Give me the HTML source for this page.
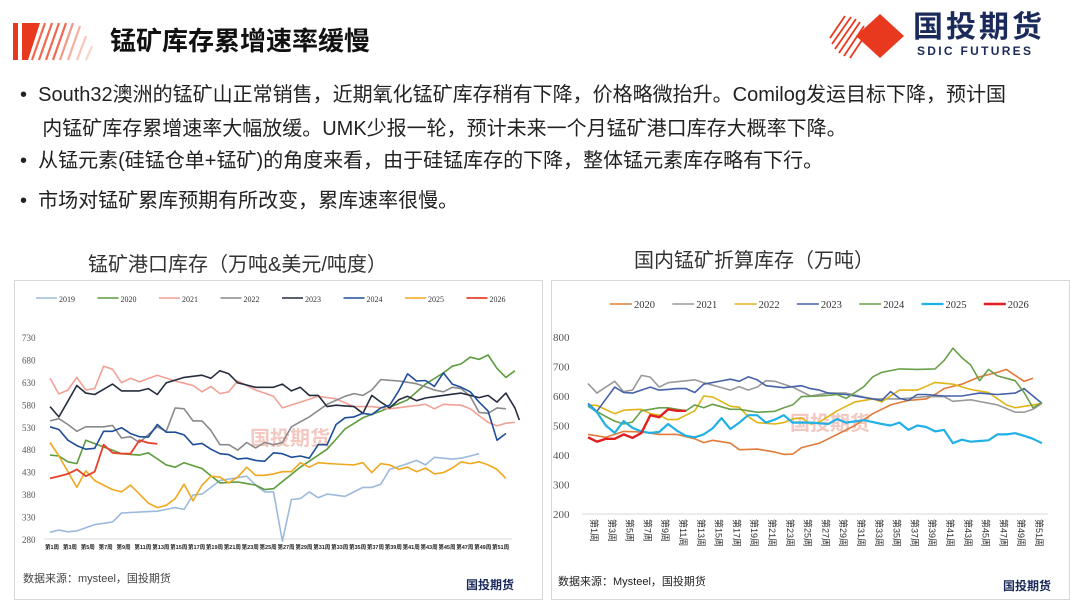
<!DOCTYPE html>
<html><head><meta charset="utf-8">
<style>
body{margin:0;width:1080px;height:608px;background:#fff;font-family:"Liberation Sans","Noto Sans CJK SC",sans-serif;overflow:hidden;position:relative}
.t{position:absolute;white-space:nowrap;color:#222}
</style></head><body>
<svg width="1080" height="608" style="position:absolute;left:0;top:0">
  <rect x="13" y="23" width="5" height="37" fill="#e8391f"/>
  <polygon points="22,23 40,23 28,60 22,60" fill="#e8391f"/>
  <g stroke="#ef6a50" stroke-width="2.2">
    <line x1="45" y1="23" x2="32" y2="60"/><line x1="52" y1="23" x2="39" y2="60"/>
    <line x1="59" y1="23" x2="46" y2="60"/><line x1="66" y1="23" x2="53" y2="60"/>
    <line x1="73" y1="23" x2="60" y2="60" stroke="#f39a86"/><line x1="80" y1="26" x2="68" y2="60" stroke="#f5b0a0"/>
    <line x1="86" y1="36" x2="77" y2="60" stroke="#f8c6ba"/><line x1="92" y1="46" x2="86" y2="60" stroke="#f8d4cb"/>
  </g>
  <g stroke="#e8391f" stroke-width="1.8">
    <line x1="830" y1="38" x2="845" y2="16"/><line x1="832" y1="44" x2="851" y2="17"/>
    <line x1="835" y1="49" x2="856" y2="19"/><line x1="839" y1="53" x2="860" y2="22"/>
    <line x1="844" y1="56" x2="864" y2="26"/><line x1="850" y1="58" x2="866" y2="34"/>
  </g>
  <polygon points="880,14 904,36 880,58 856,36" fill="#e8391f"/>
  <rect x="14.5" y="280.5" width="528" height="319" fill="none" stroke="#d8d8d8"/>
  <rect x="551.5" y="280.5" width="518" height="319" fill="none" stroke="#d8d8d8"/>
  <g id="c1"></g><g id="c2"></g>
</svg>
<div class="t" style="left:110px;top:21px;font-size:26px;font-weight:bold;color:#111">锰矿库存累增速率缓慢</div>
<div class="t" style="left:913px;top:11px;font-size:30px;line-height:34px;font-weight:bold;color:#1a2a5a;letter-spacing:3px">国投期货</div>
<div class="t" style="left:917px;top:44px;font-size:12px;line-height:14px;font-weight:bold;color:#1a2a5a;letter-spacing:2.3px">SDIC FUTURES</div>
<div class="t" style="left:20px;top:78px;font-size:20px;line-height:34px;color:#222">•&nbsp;&nbsp;South32澳洲的锰矿山正常销售，近期氧化锰矿库存稍有下降，价格略微抬升。Comilog发运目标下降，预计国<br>&nbsp;&nbsp;&nbsp;&nbsp;内锰矿库存累增速率大幅放缓。UMK少报一轮，预计未来一个月锰矿港口库存大概率下降。</div>
<div class="t" style="left:20px;top:148px;font-size:20px;line-height:26px">•&nbsp;&nbsp;从锰元素(硅锰仓单+锰矿)的角度来看，由于硅锰库存的下降，整体锰元素库存略有下行。</div>
<div class="t" style="left:20px;top:188px;font-size:20px;line-height:26px">•&nbsp;&nbsp;市场对锰矿累库预期有所改变，累库速率很慢。</div>
<div class="t" style="left:88px;top:248px;font-size:20px;color:#333">锰矿港口库存（万吨&amp;美元/吨度）</div>
<div class="t" style="left:634px;top:244px;font-size:20px;color:#333">国内锰矿折算库存（万吨）</div>
<div class="t" style="left:23px;top:570px;font-size:11px;color:#444">数据来源：mysteel，国投期货</div>
<div class="t" style="left:558px;top:573px;font-size:11px;color:#222">数据来源：Mysteel，国投期货</div>
<div class="t" style="left:466px;top:576px;font-size:12px;font-weight:bold;color:#1a2a5a">国投期货</div>
<div class="t" style="left:1003px;top:577px;font-size:12px;font-weight:bold;color:#1a2a5a">国投期货</div>
<script>
function interp(k,n){var o=[];for(var i=0;i<k.length-1;i++){var a=k[i],b=k[i+1];for(var j=a[0];j<b[0];j++){o.push([j,a[1]+(b[1]-a[1])*(j-a[0])/(b[0]-a[0])]);}}o.push(k[k.length-1]);return o;}
function S(t){return document.createElementNS("http://www.w3.org/2000/svg",t);}
function add(g,t,at,txt){var e=S(t);for(var k in at)e.setAttribute(k,at[k]);if(txt!=null)e.textContent=txt;g.appendChild(e);return e;}
function chart(id,c){
 var g=document.getElementById(id);
 var ys=function(v){return c.y0+(v-c.vmin)/(c.vmax-c.vmin)*(c.y1-c.y0);};
 var xs=function(i){return c.x0+i*c.dx;};
 add(g,"line",{x1:c.x0-6,x2:c.x0+51*c.dx+6,y1:c.y0,y2:c.y0,stroke:"#d9d9d9"});
 for(var v=c.vmin;v<=c.vmax;v+=c.step){add(g,"text",{x:c.lx,y:ys(v)+4,"font-size":c.fs,fill:"#555","font-family":"Liberation Serif,serif"},String(v));}
 add(g,"text",{x:c.wx,y:c.wy,"font-size":20,fill:"#f2c8c0","font-weight":"bold","font-family":"Noto Sans CJK SC,sans-serif"},"国投期货");
 c.series.forEach(function(s){var p=interp(s.k).map(function(q){return xs(q[0]).toFixed(1)+","+ys(q[1]).toFixed(1);}).join(" ");
  add(g,"polyline",{points:p,fill:"none",stroke:s.c,"stroke-width":s.w||1.6,"stroke-linejoin":"round"});});
 c.series.forEach(function(s,i){var lx=c.legx+i*c.legdx;add(g,"line",{x1:lx,x2:lx+c.legl,y1:c.legy,y2:c.legy,stroke:s.c,"stroke-width":s.w||1.6});
  add(g,"text",{x:lx+c.legl+2,y:c.legy+4,"font-size":c.legfs,fill:"#333","font-family":"Liberation Serif,serif"},s.n);});
 c.xl(g,xs);
}
chart("c1",{x0:50,dx:8.94,y0:539,y1:337,vmin:280,vmax:730,step:50,lx:22,fs:9,wx:250,wy:445,legx:36,legdx:61.5,legy:298,legl:21,legfs:8,
 xl:function(g,xs){for(var i=0;i<52;i+=2){add(g,"text",{x:xs(i)-5,y:549,"font-size":5.5,fill:"#222","font-weight":"bold"},"第"+(i+1)+"周");}},
 series:[
 {n:"2019",c:"#9db9dc",k:[[0,295],[1,300],[2,296],[3,298],[5,312],[7,318],[8,338],[10,340],[12,342],[14,350],[15,346],[16,378],[17,380],[19,410],[22,420],[23,400],[24,385],[25,385],[26,275],[27,368],[28,370],[29,385],[30,372],[31,380],[33,375],[35,395],[36,395],[37,402],[38,435],[40,448],[41,455],[42,445],[43,462],[45,458],[46,460],[48,470]]},
 {n:"2020",c:"#5b9c3c",k:[[0,467],[1,465],[2,452],[3,448],[4,500],[6,485],[8,470],[10,467],[11,472],[13,445],[14,440],[15,450],[17,437],[19,405],[21,407],[23,400],[24,390],[25,392],[28,440],[31,480],[33,525],[35,550],[37,565],[40,590],[42,625],[44,650],[45,665],[46,670],[47,685],[48,680],[49,690],[50,660],[51,640],[52,655]]},
 {n:"2021",c:"#f1a195",k:[[0,638],[1,603],[2,612],[3,640],[4,612],[5,615],[6,665],[7,658],[8,628],[9,638],[10,630],[12,645],[14,632],[16,622],[17,608],[18,620],[19,604],[20,608],[21,632],[23,612],[25,598],[26,572],[28,585],[30,598],[32,592],[34,575],[36,575],[38,570],[40,575],[42,580],[43,570],[44,580],[46,578],[47,570],[49,540],[50,532],[51,538],[52,540]]},
 {n:"2022",c:"#8a8a8a",k:[[0,543],[1,548],[2,535],[3,520],[4,530],[6,530],[7,533],[8,505],[9,508],[10,495],[12,530],[13,520],[14,572],[15,570],[16,543],[17,543],[18,522],[19,490],[20,490],[21,478],[22,495],[23,483],[24,495],[25,490],[26,495],[27,530],[29,552],[31,580],[33,598],[34,604],[35,600],[36,612],[37,635],[39,632],[41,626],[43,612],[44,608],[45,618],[46,615],[47,598],[48,562],[49,560],[50,572],[51,570]]},
 {n:"2023",c:"#262d3e",k:[[0,575],[1,552],[3,622],[4,605],[5,602],[7,625],[8,610],[10,610],[11,615],[12,602],[13,628],[15,640],[17,645],[18,638],[19,655],[20,648],[21,628],[23,618],[25,618],[26,625],[27,610],[28,618],[29,600],[30,600],[31,575],[32,578],[34,575],[35,560],[36,600],[37,585],[38,572],[39,590],[40,598],[41,588],[42,594],[44,600],[46,605],[48,595],[49,600],[50,585],[51,605],[52,572],[52.5,545]]},
 {n:"2024",c:"#1f4e99",k:[[0,530],[1,524],[2,500],[3,488],[4,480],[5,482],[6,520],[7,520],[8,528],[9,515],[10,508],[11,507],[12,535],[13,518],[14,518],[15,512],[16,490],[17,493],[18,480],[19,470],[20,468],[21,458],[22,460],[23,455],[24,453],[25,472],[26,470],[27,462],[28,465],[29,460],[30,490],[31,490],[32,535],[33,550],[34,552],[35,560],[36,557],[37,572],[38,578],[39,610],[40,648],[41,632],[42,633],[43,620],[44,650],[45,625],[46,618],[47,608],[48,585],[49,565],[50,500],[51,515]]},
 {n:"2025",c:"#f0a81e",k:[[0,495],[1,465],[2,430],[3,395],[4,432],[5,410],[7,390],[8,385],[9,400],[11,360],[12,350],[13,355],[14,370],[15,402],[16,365],[17,400],[18,420],[19,418],[20,405],[21,418],[22,440],[23,422],[24,422],[25,425],[26,430],[27,430],[28,450],[29,440],[30,450],[32,447],[34,445],[35,450],[36,428],[37,448],[38,445],[39,435],[40,440],[41,430],[42,438],[43,425],[44,428],[45,438],[46,452],[47,448],[48,452],[49,445],[50,435],[51,415]]},
 {n:"2026",c:"#e8402a",w:1.8,k:[[0,415],[1,420],[2,425],[3,435],[4,420],[5,430],[6,490],[7,472],[8,470],[9,470],[10,500],[11,494],[12,492]]}
 ]});
chart("c2",{x0:588,dx:8.9,y0:514,y1:337,vmin:200,vmax:800,step:100,lx:553,fs:11,wx:790,wy:430,legx:610,legdx:62.3,legy:304,legl:22,legfs:10.5,
 xl:function(g,xs){for(var i=0;i<52;i+=2){var x=xs(i)+3;add(g,"text",{x:x,y:519,"font-size":9,fill:"#333",transform:"rotate(90 "+x+" 519)"},"第"+(i+1)+"周");}},
 series:[
 {n:"2020",c:"#e07b39",k:[[0,470],[2,460],[4,480],[6,478],[8,470],[10,470],[12,455],[13,442],[14,450],[16,440],[17,418],[19,420],[21,410],[22,402],[23,403],[24,425],[26,440],[28,470],[30,500],[32,540],[34,570],[36,585],[38,590],[39,605],[40,625],[42,640],[44,665],[46,680],[47,690],[49,650],[50,660]]},
 {n:"2021",c:"#9a9a9a",k:[[0,642],[1,610],[3,650],[4,615],[5,620],[6,670],[7,664],[8,630],[9,645],[12,655],[13,645],[16,620],[17,632],[18,620],[19,630],[20,652],[21,650],[23,630],[25,600],[27,610],[29,610],[32,590],[35,590],[38,598],[40,598],[41,582],[43,587],[46,570],[48,545],[49,545],[50,555],[51,575]]},
 {n:"2022",c:"#e0b416",k:[[0,570],[1,568],[3,540],[4,552],[6,555],[7,540],[8,535],[9,520],[10,520],[12,550],[13,600],[14,597],[16,565],[17,562],[18,530],[19,510],[21,505],[22,510],[23,522],[24,525],[25,505],[26,512],[28,550],[30,580],[32,590],[33,580],[35,620],[37,620],[39,646],[41,640],[43,622],[45,612],[47,570],[48,560],[50,570],[51,575]]},
 {n:"2023",c:"#4561a8",k:[[0,575],[1,548],[3,630],[4,612],[5,610],[7,630],[8,620],[10,625],[11,625],[12,612],[13,640],[16,657],[17,650],[18,665],[19,655],[20,635],[22,628],[24,635],[25,625],[26,620],[27,610],[29,605],[31,595],[33,585],[34,615],[35,592],[36,585],[37,605],[38,605],[40,600],[42,600],[44,610],[46,605],[48,610],[49,625],[51,575]]},
 {n:"2024",c:"#6aa04a",k:[[0,565],[2,530],[3,515],[4,505],[5,512],[6,550],[8,560],[9,560],[11,550],[12,570],[13,560],[14,572],[16,555],[17,555],[19,545],[21,548],[22,560],[23,570],[24,598],[26,600],[28,605],[29,592],[31,632],[32,665],[33,680],[35,692],[37,690],[39,692],[40,720],[41,762],[42,730],[43,705],[44,652],[45,690],[46,668],[48,652],[49,612],[50,560],[51,578]]},
 {n:"2025",c:"#21b1e6",w:2.2,k:[[0,570],[1,545],[2,500],[3,475],[4,515],[5,492],[6,480],[7,475],[8,478],[9,505],[10,482],[11,465],[12,460],[13,470],[14,490],[15,525],[16,488],[17,510],[18,535],[19,535],[20,510],[21,520],[22,535],[23,510],[25,510],[27,505],[28,522],[29,510],[31,518],[33,505],[34,500],[35,510],[36,485],[37,500],[38,495],[39,480],[40,485],[41,440],[42,452],[43,445],[45,450],[46,470],[47,470],[48,474],[49,465],[50,455],[51,440]]},
 {n:"2026",c:"#e02020",w:2.4,k:[[0,460],[1,445],[2,455],[3,455],[4,470],[5,458],[6,475],[7,535],[8,528],[9,555],[10,550],[11,550]]}
 ]});
</script>
</body></html>
